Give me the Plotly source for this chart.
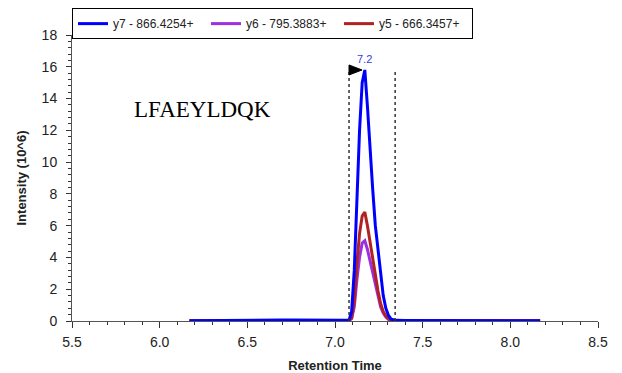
import plotly.graph_objects as go

# ---- data ----
rt = [6.17, 6.25, 6.35, 6.45, 6.55, 6.65, 6.70, 6.75, 6.80, 6.85, 6.90, 6.95, 7.00, 7.04,
      7.065, 7.08, 7.095, 7.11, 7.125, 7.14, 7.155, 7.17, 7.185, 7.20, 7.215, 7.23, 7.245,
      7.26, 7.275, 7.29, 7.305, 7.32, 7.335, 7.35, 7.40, 7.50, 7.60, 7.70, 7.80, 7.90,
      8.00, 8.10, 8.17]
y7 = [0.02, 0.02, 0.02, 0.03, 0.03, 0.04, 0.06, 0.07, 0.06, 0.05, 0.03, 0.03, 0.03, 0.03,
      0.04, 0.05, 0.6, 3.2, 8.0, 12.0, 15.0, 15.8, 13.5, 10.5, 8.3, 6.0, 4.4,
      2.8, 1.6, 0.8, 0.35, 0.12, 0.06, 0.04, 0.03, 0.03, 0.03, 0.03, 0.03, 0.03,
      0.02, 0.02, 0.02]
y6 = [0.01, 0.01, 0.01, 0.02, 0.02, 0.02, 0.03, 0.03, 0.03, 0.02, 0.02, 0.02, 0.02, 0.02,
      0.02, 0.03, 0.15, 0.9, 2.6, 4.0, 4.9, 5.05, 4.5, 3.8, 3.0, 2.2, 1.5,
      0.9, 0.5, 0.25, 0.1, 0.05, 0.03, 0.02, 0.02, 0.02, 0.03, 0.03, 0.03, 0.02,
      0.02, 0.01, 0.01]
y5 = [0.01, 0.01, 0.01, 0.02, 0.02, 0.02, 0.03, 0.03, 0.03, 0.02, 0.02, 0.02, 0.02, 0.02,
      0.02, 0.03, 0.2, 1.2, 3.6, 5.5, 6.6, 6.85, 6.0, 5.0, 3.9, 2.8, 1.9,
      1.1, 0.6, 0.3, 0.12, 0.05, 0.03, 0.02, 0.02, 0.02, 0.04, 0.04, 0.04, 0.03,
      0.02, 0.01, 0.01]
series_names = ["y7 - 866.4254+", "y6 - 795.3883+", "y5 - 666.3457+"]
series_colors = ["#0000FF", "#9B30E0", "#B22222"]
peak_bounds = [7.08, 7.343]
peak_rt = 7.17
peak_label = "7.2"
peptide = "LFAEYLDQK"
x_ticks = [5.5, 6.0, 6.5, 7.0, 7.5, 8.0, 8.5]
y_ticks = [0, 2, 4, 6, 8, 10, 12, 14, 16, 18]

FONT = "Arial, Liberation Sans, sans-serif"

fig = go.Figure()
# draw order: y6, y5 underneath, y7 on top; legend order y7, y6, y5
draw = [(1, y6), (2, y5), (0, y7)]
for idx, ys in draw:
    fig.add_trace(go.Scatter(x=rt, y=ys, name=series_names[idx], mode="lines",
                             legendrank=idx + 1,
                             line=dict(color=series_colors[idx], width=3)))

top = max(y7)
for b in peak_bounds:
    fig.add_shape(type="line", x0=b, x1=b, y0=0, y1=top, xref="x", yref="y",
                  line=dict(color="#333333", width=1.5, dash="dot"))

# flag triangle at the start boundary
fig.add_shape(type="path", xref="x", yref="y", xsizemode="pixel", ysizemode="pixel",
              xanchor=peak_bounds[0], yanchor=top,
              path="M0,-5 L13,0 L0,5 Z", fillcolor="black", line=dict(color="black", width=1))

fig.add_annotation(x=peak_rt, y=top, text=peak_label, showarrow=False, yanchor="bottom",
                   yshift=3, font=dict(family=FONT, size=11, color="#3A3AE8"))
fig.add_annotation(x=5.84, y=13.3, text=peptide, showarrow=False, xanchor="left",
                   font=dict(family="Times New Roman, Liberation Serif, serif", size=23, color="black"))

axis_common = dict(showgrid=False, zeroline=False, showline=True, linecolor="#555555",
                   linewidth=1, automargin=False)
# the page body has an 8px margin, so the figure is sized/offset to land on the reference grid
fig.update_layout(
    width=614, height=365,
    margin=dict(l=64, r=24, t=27, b=52, autoexpand=False),
    plot_bgcolor="white", paper_bgcolor="white",
    font=dict(family=FONT, size=14, color="#222222"),
    showlegend=True,
    legend=dict(orientation="h", x=0, xanchor="left", y=1.094, yanchor="top",
                bordercolor="black", borderwidth=1, font=dict(size=12, color="#222222"),
                entrywidth=88, entrywidthmode="pixels", itemwidth=30,
                traceorder="normal", tracegroupgap=0),
    xaxis=dict(range=[5.5, 8.5], tickvals=x_ticks, ticktext=[f"{v:.1f}" for v in x_ticks],
               ticks="outside", ticklen=6, tickcolor="#333333", ticklabelstandoff=2,
               minor=dict(dtick=0.1, ticks="outside", ticklen=3, tickcolor="#333333"),
               title=dict(text="<b>Retention Time</b>", font=dict(size=13), standoff=12),
               **axis_common),
    yaxis=dict(range=[0, 18], tickvals=y_ticks, ticks="outside", ticklen=5, tickcolor="#333333",
               ticklabelstandoff=6,
               minor=dict(dtick=0.4, ticks="outside", ticklen=3, tickcolor="#333333"),
               title=dict(text="<b>Intensity (10^6)</b>", font=dict(size=13), standoff=12),
               **axis_common),
    xaxis2=dict(overlaying="x", matches="x", range=[5.5, 8.5], tickvals=x_ticks,
                showticklabels=False, ticks="inside", ticklen=6, tickcolor="#333333",
                minor=dict(dtick=0.1, ticks="inside", ticklen=3, tickcolor="#333333"),
                showgrid=False, zeroline=False, showline=False, anchor="y"),
    yaxis2=dict(overlaying="y", matches="y", range=[0, 18], tickvals=y_ticks,
                showticklabels=False, ticks="inside", ticklen=5, tickcolor="#333333",
                minor=dict(dtick=0.4, ticks="inside", ticklen=3, tickcolor="#333333"),
                showgrid=False, zeroline=False, showline=False, anchor="x"),
)

fig.write_html("out.html")
